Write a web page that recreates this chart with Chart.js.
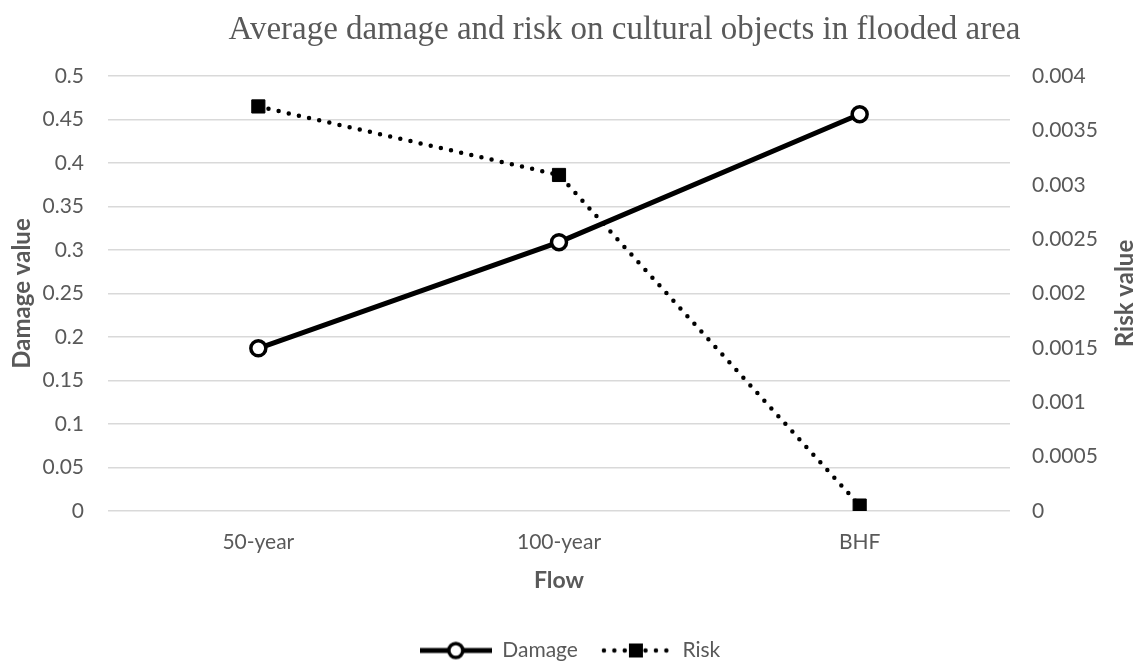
<!DOCTYPE html>
<html>
<head>
<meta charset="utf-8">
<title>Average damage and risk on cultural objects in flooded area</title>
<script src="https://cdn.jsdelivr.net/npm/chart.js@4/dist/chart.umd.min.js"></script>
<style>
  html, body { margin: 0; padding: 0; background: #ffffff; }
  #wrap { width: 1140px; height: 666px; }
</style>
</head>
<body>
<div id="wrap"><canvas id="chart" width="1140" height="666"></canvas></div>
<script>
// Flow scenarios on the horizontal axis
const flows = ['50-year', '100-year', 'BHF'];

// Average damage (left axis) and risk (right axis) per scenario
const damageValues = [0.187, 0.309, 0.456];
const riskValues = [0.00372, 0.00309, 0.00005];

// Axis ticks and their printed labels
const damageTicks = [0, 0.05, 0.1, 0.15, 0.2, 0.25, 0.3, 0.35, 0.4, 0.45, 0.5];
const damageTickLabels = ['0', '0.05', '0.1', '0.15', '0.2', '0.25', '0.3', '0.35', '0.4', '0.45', '0.5'];
const riskTicks = [0, 0.0005, 0.001, 0.0015, 0.002, 0.0025, 0.003, 0.0035, 0.004];
const riskTickLabels = ['0', '0.0005', '0.001', '0.0015', '0.002', '0.0025', '0.003', '0.0035', '0.004'];

const GREY = '#595959';
const SANS = 'Lato, "Open Sans", sans-serif';

// Legend swatches: a short line segment with the series marker in the middle
function makeSwatch(kind) {
  const c = document.createElement('canvas');
  c.width = 72; c.height = 20;
  const g = c.getContext('2d');
  g.strokeStyle = '#000';
  g.fillStyle = '#000';
  if (kind === 'solid') {
    g.lineWidth = 5;
    g.beginPath(); g.moveTo(0, 10); g.lineTo(72, 10); g.stroke();
    g.beginPath(); g.arc(36, 10, 7, 0, Math.PI * 2);
    g.fillStyle = '#fff'; g.fill();
    g.lineWidth = 3.5; g.stroke();
  } else {
    g.lineWidth = 4.5;
    g.lineCap = 'round';
    g.setLineDash([0, 10.4]);
    g.beginPath(); g.moveTo(4, 10); g.lineTo(70, 10); g.stroke();
    g.setLineDash([]);
    g.fillRect(29, 3, 14, 14);
  }
  return c;
}
const swatches = [makeSwatch('solid'), makeSwatch('dotted')];

// Right-hand axis title, written bottom-to-top like the left one
const riskTitlePlugin = {
  id: 'riskTitle',
  afterDraw(chart) {
    const ctx = chart.ctx;
    const area = chart.chartArea;
    ctx.save();
    ctx.translate(1125, (area.top + area.bottom) / 2);
    ctx.rotate(-Math.PI / 2);
    ctx.font = 'bold 24px ' + SANS;
    ctx.fillStyle = GREY;
    ctx.textAlign = 'center';
    ctx.textBaseline = 'middle';
    ctx.fillText('Risk value', 0, 0);
    ctx.restore();
  }
};

// Nudges the title and legend blocks into place after layout
const placementPlugin = {
  id: 'placement',
  afterLayout(chart) {
    if (chart.titleBlock) {
      chart.titleBlock.left = 109;
    }
    if (chart.legend) {
      chart.legend.top += 5;
      chart.legend.bottom += 5;
      if (chart.legend.legendHitBoxes) {
        chart.legend.legendHitBoxes.forEach(b => { b.top += 5; });
      }
    }
  }
};

new Chart(document.getElementById('chart'), {
  type: 'line',
  data: {
    labels: flows,
    datasets: [
      {
        label: 'Damage',
        data: damageValues,
        yAxisID: 'y',
        borderColor: '#000',
        borderWidth: 5,
        pointStyle: 'circle',
        pointRadius: 7.5,
        pointHoverRadius: 7.5,
        pointBackgroundColor: '#fff',
        pointBorderColor: '#000',
        pointBorderWidth: 3.5,
        tension: 0,
        fill: false
      },
      {
        label: 'Risk',
        data: riskValues,
        yAxisID: 'y1',
        borderColor: '#000',
        borderWidth: 4.5,
        borderDash: [0, 10.4],
        borderCapStyle: 'round',
        pointStyle: 'rect',
        pointRadius: 9.3,
        pointHoverRadius: 9.3,
        pointBackgroundColor: '#000',
        pointBorderColor: '#000',
        pointBorderWidth: 1,
        tension: 0,
        fill: false
      }
    ]
  },
  options: {
    responsive: false,
    animation: false,
    devicePixelRatio: 1,
    layout: { padding: 0 },
    plugins: {
      title: {
        display: true,
        text: 'Average damage and risk on cultural objects in flooded area',
        color: GREY,
        font: { family: '"Liberation Serif", "Times New Roman", serif', size: 33, weight: 'normal' },
        padding: { top: 11, bottom: 25.4 }
      },
      legend: {
        display: true,
        position: 'bottom',
        labels: {
          color: GREY,
          font: { family: SANS, size: 21 },
          usePointStyle: true,
          pointStyleWidth: 72,
          padding: 22,
          generateLabels(chart) {
            const items = Chart.defaults.plugins.legend.labels.generateLabels(chart);
            items.forEach((it, i) => { it.pointStyle = swatches[i]; });
            return items;
          }
        }
      },
      tooltip: { enabled: false }
    },
    scales: {
      x: {
        type: 'category',
        offset: true,
        grid: { display: false },
        border: { display: false },
        ticks: { color: GREY, font: { family: SANS, size: 21 }, padding: 11 },
        title: {
          display: true,
          text: 'Flow',
          color: GREY,
          font: { family: SANS, size: 23, weight: 'bold' },
          padding: { top: 0, bottom: 19 }
        },
        afterFit(scale) { scale.height = 102; }
      },
      y: {
        type: 'linear',
        position: 'left',
        min: 0,
        max: 0.5,
        afterBuildTicks(scale) { scale.ticks = damageTicks.map(v => ({ value: v })); },
        grid: { color: '#d9d9d9', lineWidth: 1.5, drawTicks: false },
        border: { display: false },
        ticks: {
          color: GREY,
          font: { family: SANS, size: 21 },
          padding: 24,
          callback: (v, i) => damageTickLabels[i]
        },
        title: {
          display: true,
          text: 'Damage value',
          color: GREY,
          font: { family: SANS, size: 24, weight: 'bold' },
          padding: { top: 8, bottom: 0 }
        },
        afterFit(scale) { scale.width = 108; }
      },
      y1: {
        type: 'linear',
        position: 'right',
        min: 0,
        max: 0.004,
        afterBuildTicks(scale) { scale.ticks = riskTicks.map(v => ({ value: v })); },
        grid: { display: false, drawTicks: false },
        border: { display: false },
        ticks: {
          color: GREY,
          font: { family: SANS, size: 21 },
          padding: 22,
          callback: (v, i) => riskTickLabels[i]
        },
        title: { display: false },
        afterFit(scale) { scale.width = 130; }
      }
    }
  },
  plugins: [riskTitlePlugin, placementPlugin]
});
</script>
</body>
</html>
